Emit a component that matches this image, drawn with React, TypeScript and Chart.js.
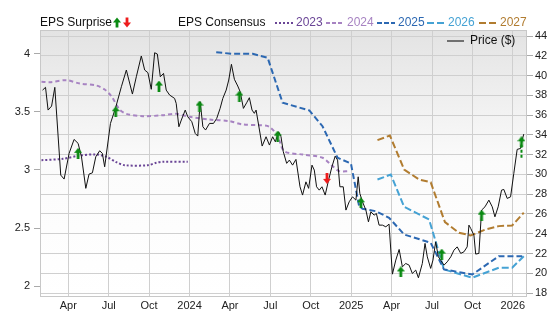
import React, { useEffect, useRef } from 'react';
import { Chart, registerables } from 'chart.js';

Chart.register(...registerables);

// x values are months since Jan 2023 (fractional)
const xTickValues = [3, 6, 9, 12, 15, 18, 21, 24, 27, 30, 33, 36];
const xTickLabels = ['Apr', 'Jul', 'Oct', '2024', 'Apr', 'Jul', 'Oct', '2025', 'Apr', 'Jul', 'Oct', '2026'];
const epsTicks = [2, 2.5, 3, 3.5, 4];
const priceTicks = [18, 20, 22, 24, 26, 28, 30, 32, 34, 36, 38, 40, 42, 44];

const priceMonths = [
  1.09, 1.31, 1.5, 1.76, 2.0, 2.44, 2.69, 3.06, 3.43, 3.73, 3.98, 4.3, 4.54, 4.79, 5.04, 5.33, 5.53, 5.7,
  6.13, 6.52, 6.94, 7.31, 7.76, 8.05, 8.42, 8.67, 8.91, 9.16, 9.41, 9.61, 9.83, 10.07, 10.27, 10.52, 10.89,
  11.01, 11.21, 11.39, 11.68, 11.87, 12.17, 12.42, 12.61, 12.79, 12.99, 13.19, 13.48, 13.78, 14.02, 14.27,
  14.47, 14.72, 14.91, 15.11, 15.33, 15.58, 15.76, 16.0, 16.24, 16.44, 16.64, 16.81, 16.94, 17.19, 17.39,
  17.68, 17.93, 18.17, 18.37, 18.61, 18.79, 18.96, 19.21, 19.41, 19.65, 19.9, 20.2, 20.39, 20.64, 20.84,
  21.09, 21.26, 21.43, 21.63, 21.83, 22.07, 22.32, 22.57, 22.81, 22.99, 23.16, 23.41, 23.61, 23.85, 24.1,
  24.35, 24.52, 24.64, 24.84, 25.09, 25.28, 25.46, 25.7, 25.87, 26.07, 26.32, 26.57, 26.81, 27.06, 27.31,
  27.56, 27.8, 28.05, 28.3, 28.54, 28.79, 28.99, 29.28, 29.48, 29.65, 29.9, 30.07, 30.27, 30.47, 30.64,
  30.89, 31.13, 31.39, 31.63, 31.87, 32.13, 32.37, 32.61, 32.74, 32.87, 33.11, 33.24, 33.48, 33.68, 33.93,
  34.22, 34.47, 34.67, 34.91, 35.16, 35.33, 35.58, 35.83, 36.07, 36.32, 36.57, 36.69, 36.81,
];
const priceValues = [
  38.53, 38.81, 36.51, 36.91, 38.81, 29.93, 29.53, 32.13, 33.54, 33.14, 31.78, 28.59, 30.03, 30.16, 31.78,
  32.39, 32.13, 30.77, 35.16, 36.78, 38.87, 40.56, 38.13, 39.88, 41.98, 40.56, 40.29, 38.61, 42.31, 42.18,
  39.88, 40.22, 38.53, 38.03, 37.69, 37.19, 34.82, 35.5, 36.51, 35.83, 35.33, 34.15, 33.88, 37.35, 34.82,
  34.49, 35.16, 35.16, 35.67, 36.68, 37.69, 38.53, 39.55, 41.14, 39.62, 38.94, 38.36, 36.68, 37.25, 37.76,
  36.51, 36.18, 36.51, 34.49, 32.87, 33.81, 32.97, 33.81, 33.3, 34.31, 33.81, 32.29, 31.12, 31.45, 30.94,
  31.52, 28.75, 27.91, 29.25, 28.59, 30.94, 30.44, 28.75, 28.41, 28.75, 27.91, 29.43, 30.77, 31.85, 31.45,
  28.75, 28.75, 26.39, 27.23, 27.73, 27.4, 29.76, 28.08, 27.23, 26.39, 25.2, 26.22, 25.88, 26.05, 24.87,
  24.87, 24.7, 24.97, 19.91, 21.33, 22.41, 20.65, 20.99, 20.82, 19.98, 20.32, 19.54, 20.99, 23.02, 21.66,
  20.49, 21.33, 23.18, 21.66, 21.33, 20.82, 21.16, 21.66, 22.34, 22.67, 22.01, 22.17, 22.67, 24.87, 24.54,
  23.86, 21.94, 22.01, 26.39, 26.72, 27.4, 26.72, 25.71, 26.72, 28.41, 28.48, 27.57, 27.73, 30.1, 32.53,
  32.63, 33.47, 34.08,
];

const eps2023Months = [1.01, 2.61, 3.85, 5.09, 5.83, 6.57, 7.19, 8.91, 9.53, 10.02, 11.87];
const eps2023Values = [3.084, 3.096, 3.124, 3.133, 3.113, 3.067, 3.041, 3.041, 3.062, 3.07, 3.07];

const eps2024Months = [1.01, 1.63, 2.87, 3.85, 5.09, 5.7, 6.2, 6.81, 7.31, 8.54, 10.02, 11.01, 12.0, 13.48,
  14.96, 15.95, 17.19, 17.93, 18.54, 19.04, 20.39, 21.87, 22.61, 23.11, 23.85];
const eps2024Values = [3.757, 3.754, 3.771, 3.742, 3.725, 3.691, 3.633, 3.519, 3.482, 3.462, 3.47, 3.482,
  3.457, 3.433, 3.419, 3.391, 3.385, 3.371, 3.29, 3.161, 3.133, 3.105, 3.033, 2.99, 2.99];

const eps2025Months = [13.98, 15.21, 16.69, 17.8, 18.91, 20.89, 21.87, 22.99, 23.98, 24.59, 24.84, 25.83,
  26.81, 27.93, 29.9, 30.89, 32.99, 34.96, 36.69];
const eps2025Values = [4.011, 3.997, 3.997, 3.963, 3.577, 3.511, 3.376, 3.105, 3.056, 2.689, 2.667, 2.646,
  2.59, 2.446, 2.375, 2.146, 2.103, 2.26, 2.26];

const eps2026Months = [25.95, 26.94, 27.93, 29.78, 30.89, 32.99, 34.96, 35.95, 36.81];
const eps2026Values = [2.918, 2.961, 2.684, 2.575, 2.146, 2.075, 2.161, 2.161, 2.26];

const eps2027Months = [25.95, 26.87, 27.93, 29.04, 29.9, 30.96, 32.0, 32.87, 33.98, 34.96, 35.95, 36.81];
const eps2027Values = [3.256, 3.296, 3.004, 2.918, 2.895, 2.552, 2.461, 2.438, 2.489, 2.518, 2.524, 2.633];

const beatMonths = [3.73, 6.52, 9.73, 12.74, 15.7, 18.54, 24.72, 27.68, 30.72, 33.68, 36.64];
const beatPrices = [32.13, 36.34, 38.94, 36.91, 37.93, 33.88, 27.13, 20.14, 21.94, 25.88, 33.3];
const missMonths = [22.2];
const missPrices = [29.6];
const lastMoveMonths = [36.64, 36.64];
const lastMovePrices = [33.0, 31.6];

const C2023 = '#6a4596';
const C2024 = '#a783c2';
const C2025 = '#2c68b2';
const C2026 = '#45a2d4';
const C2027 = '#b17c30';
const GREEN = '#0a8a12';
const RED = '#ee1c1c';
const FONT = '"Liberation Sans", Arial, Helvetica, sans-serif';

function pts(xs: number[], ys: number[]) {
  return xs.map((x, i) => ({ x, y: ys[i] }));
}

function makeArrow(color: string, up: boolean): HTMLCanvasElement {
  const c = document.createElement('canvas');
  c.width = 8;
  c.height = 11;
  const g = c.getContext('2d')!;
  g.fillStyle = color;
  g.save();
  if (!up) {
    g.translate(0, 11);
    g.scale(1, -1);
  }
  g.beginPath();
  g.moveTo(4, 0);
  g.lineTo(8, 5);
  g.lineTo(0, 5);
  g.closePath();
  g.fill();
  g.fillRect(2.6, 4.5, 2.8, 6.5);
  g.restore();
  return c;
}

function drawArrow(ctx: CanvasRenderingContext2D, x: number, y: number, color: string, up: boolean) {
  ctx.save();
  ctx.fillStyle = color;
  ctx.translate(x, y);
  if (!up) ctx.scale(1, -1);
  ctx.beginPath();
  ctx.moveTo(0, -5);
  ctx.lineTo(4, 0);
  ctx.lineTo(-4, 0);
  ctx.closePath();
  ctx.fill();
  ctx.fillRect(-1.4, -0.5, 2.8, 5.5);
  ctx.restore();
}

const bgPlugin = {
  id: 'bgPlugin',
  beforeDraw(chart: any) {
    const { ctx, chartArea: a } = chart;
    const g = ctx.createLinearGradient(0, a.top, 0, a.bottom);
    g.addColorStop(0, '#e3e3e3');
    g.addColorStop(0.5, '#fbfbfb');
    g.addColorStop(1, '#ffffff');
    ctx.save();
    ctx.fillStyle = g;
    ctx.fillRect(a.left, a.top, a.right - a.left, a.bottom - a.top);
    ctx.restore();
  },
  beforeDatasetsDraw(chart: any) {
    const { ctx, chartArea: a } = chart;
    ctx.save();
    ctx.strokeStyle = '#c8c8c8';
    ctx.lineWidth = 1;
    ctx.strokeRect(a.left + 0.5, a.top + 0.5, a.right - a.left - 1, a.bottom - a.top);
    ctx.restore();
  },
  afterDraw(chart: any) {
    const ctx: CanvasRenderingContext2D = chart.ctx;
    ctx.save();
    ctx.font = '12px ' + FONT;
    ctx.textBaseline = 'middle';
    ctx.textAlign = 'left';
    ctx.fillStyle = '#111';
    ctx.fillText('EPS Surprise', 40, 23);
    drawArrow(ctx, 117, 22.5, GREEN, true);
    drawArrow(ctx, 127, 22.5, RED, false);
    ctx.fillStyle = '#111';
    ctx.fillText('EPS Consensus', 178, 23);
    const items = [
      { c: C2023, d: [2, 2], x: 275, t: '2023' },
      { c: C2024, d: [4, 2], x: 326, t: '2024' },
      { c: C2025, d: [5, 2], x: 377, t: '2025' },
      { c: C2026, d: [7, 3], x: 427, t: '2026' },
      { c: C2027, d: [7, 3], x: 479, t: '2027' },
    ];
    items.forEach((it) => {
      ctx.strokeStyle = it.c;
      ctx.lineWidth = 2;
      ctx.setLineDash(it.d);
      ctx.beginPath();
      ctx.moveTo(it.x, 23);
      ctx.lineTo(it.x + 18, 23);
      ctx.stroke();
      ctx.setLineDash([]);
      ctx.fillStyle = it.c;
      ctx.fillText(it.t, it.x + 21, 23);
    });
    ctx.strokeStyle = '#707070';
    ctx.lineWidth = 2;
    ctx.beginPath();
    ctx.moveTo(447, 41);
    ctx.lineTo(464, 41);
    ctx.stroke();
    ctx.fillStyle = '#111';
    ctx.fillText('Price ($)', 470, 41);
    ctx.restore();
  },
};

export default function App() {
  const ref = useRef<HTMLCanvasElement | null>(null);
  useEffect(() => {
    if (!ref.current) return;
    const upArrow = makeArrow(GREEN, true);
    const downArrow = makeArrow(RED, false);
    const epsLine = (label: string, xs: number[], ys: number[], color: string, dash: number[], tension: number) => ({
      label,
      data: pts(xs, ys),
      yAxisID: 'eps',
      borderColor: color,
      borderWidth: 2,
      borderDash: dash,
      pointRadius: 0,
      tension,
      fill: false,
    });
    const chart = new Chart(ref.current, {
      type: 'line',
      data: {
        datasets: [
          {
            label: 'beat',
            data: pts(beatMonths, beatPrices),
            yAxisID: 'price',
            showLine: false,
            pointStyle: upArrow as any,
            pointRadius: 4,
            borderColor: GREEN,
            backgroundColor: GREEN,
          },
          {
            label: 'miss',
            data: pts(missMonths, missPrices),
            yAxisID: 'price',
            showLine: false,
            pointStyle: downArrow as any,
            pointRadius: 4,
            borderColor: RED,
            backgroundColor: RED,
          },
          {
            label: 'move',
            data: pts(lastMoveMonths, lastMovePrices),
            yAxisID: 'price',
            borderColor: GREEN,
            borderWidth: 2,
            borderDash: [3, 2],
            pointRadius: 0,
          },
          {
            label: 'Price ($)',
            data: pts(priceMonths, priceValues),
            yAxisID: 'price',
            borderColor: '#111111',
            borderWidth: 1,
            pointRadius: 0,
            tension: 0,
          },
          epsLine('2023', eps2023Months, eps2023Values, C2023, [2, 2], 0.3),
          epsLine('2024', eps2024Months, eps2024Values, C2024, [4, 3], 0.3),
          epsLine('2025', eps2025Months, eps2025Values, C2025, [6, 3], 0),
          epsLine('2026', eps2026Months, eps2026Values, C2026, [7, 3], 0),
          epsLine('2027', eps2027Months, eps2027Values, C2027, [7, 3], 0),
        ] as any,
      },
      options: {
        animation: false,
        responsive: false,
        events: [],
        layout: { padding: { top: 30, left: 0, right: 0, bottom: 0 } },
        plugins: { legend: { display: false }, tooltip: { enabled: false }, title: { display: false } },
        scales: {
          x: {
            type: 'linear',
            min: 0.9,
            max: 37.05,
            afterBuildTicks: (s: any) => {
              s.ticks = xTickValues.map((v) => ({ value: v }));
            },
            afterFit: (s: any) => {
              s.height = 19;
            },
            ticks: {
              autoSkip: false,
              maxRotation: 0,
              padding: 3,
              color: '#222',
              font: { family: FONT, size: 11 },
              callback: (v: any) => {
                const i = xTickValues.indexOf(Number(v));
                return i >= 0 ? xTickLabels[i] : '';
              },
            },
            grid: { color: '#cfcfcf', drawTicks: false },
            border: { display: false },
          },
          eps: {
            type: 'linear',
            position: 'left',
            min: 1.918,
            max: 4.202,
            afterBuildTicks: (s: any) => {
              s.ticks = epsTicks.map((v) => ({ value: v }));
            },
            afterFit: (s: any) => {
              s.width = 40;
            },
            ticks: {
              padding: 4,
              color: '#222',
              font: { family: FONT, size: 11 },
              callback: (v: any) => String(v),
            },
            grid: { drawOnChartArea: false, drawTicks: true, tickLength: 6, tickColor: '#aaaaaa' },
            border: { display: false },
          },
          price: {
            type: 'linear',
            position: 'right',
            min: 17.7,
            max: 44.61,
            afterBuildTicks: (s: any) => {
              s.ticks = priceTicks.map((v) => ({ value: v }));
            },
            afterFit: (s: any) => {
              s.width = 29;
            },
            ticks: {
              padding: 2,
              color: '#222',
              font: { family: FONT, size: 11 },
              callback: (v: any) => String(v),
            },
            grid: { color: '#cfcfcf', drawTicks: true, tickLength: 6, tickColor: '#aaaaaa' },
            border: { display: false },
          },
        },
      } as any,
      plugins: [bgPlugin],
    });
    return () => chart.destroy();
  }, []);
  return (
    <div style={{ position: 'fixed', left: 0, top: 0, width: 556, height: 315, background: '#fff' }}>
      <canvas ref={ref} width={556} height={315} style={{ width: 556, height: 315, display: 'block' }} />
    </div>
  );
}
